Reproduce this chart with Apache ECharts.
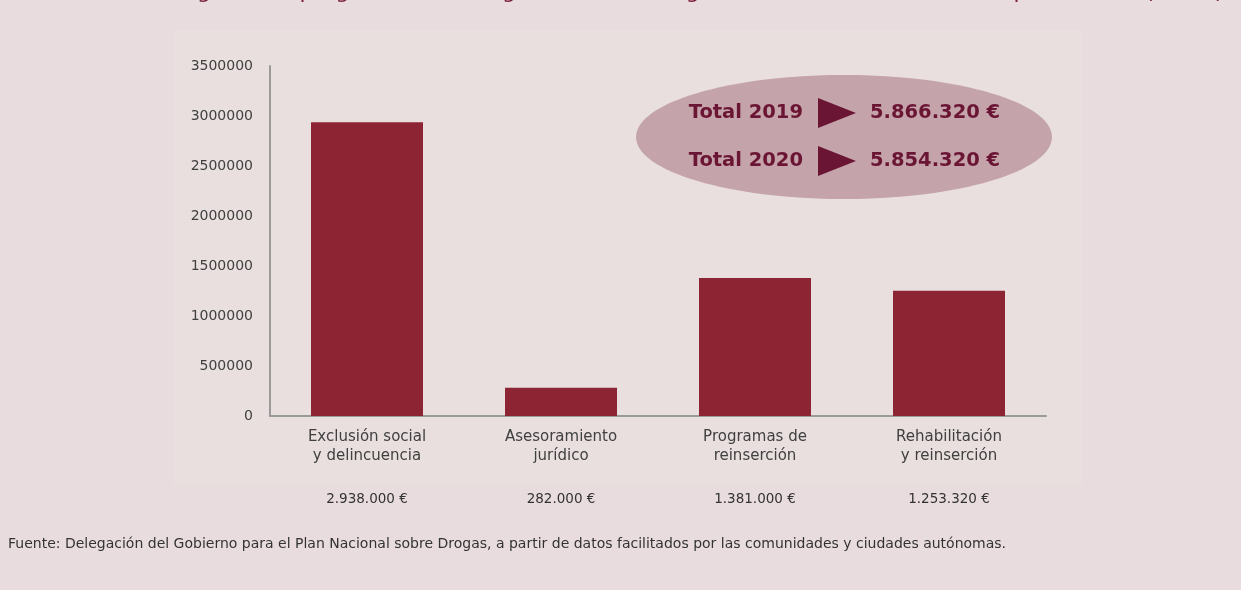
<!DOCTYPE html>
<html lang="es">
<head>
<meta charset="UTF-8">
<title>Programas de integración social</title>
<script src="https://cdn.jsdelivr.net/npm/echarts@6/dist/echarts.min.js"></script>
<style>
    html, body { margin: 0; padding: 0; background: #e9dcdf; }
    #container { width: 1241px; height: 590px; }
</style>
</head>
<body>
<div id="container"></div>
<script type="text/javascript">
    // categorías (dos líneas cada una)
    var categories = [
        'Exclusión social\ny delincuencia',
        'Asesoramiento\njurídico',
        'Programas de\nreinserción',
        'Rehabilitación\ny reinserción'
    ];
    // gasto por área (euros)
    var gasto = [2938000, 282000, 1381000, 1253320];
    // totales del recuadro
    var totalYears = ['2019', '2020'];
    var totals = [5866320, 5854320];

    var font = 'DejaVu Sans';
    var wine = '#6b1535';

    // 2938000 -> "2.938.000 €"
    function euros(v) {
        return String(v).replace(/\B(?=(\d{3})+(?!\d))/g, '.') + ' €';
    }

    var myChart = echarts.init(document.getElementById('container'), null, { renderer: 'canvas' });

    var graphics = [
        // panel claro del gráfico
        { type: 'rect', z: -10, silent: true,
          shape: { x: 173, y: 30, width: 909, height: 455 },
          style: { fill: '#e9dfdf' } },
        // título (cortado arriba)
        { type: 'text', left: 'center', top: -19, silent: true,
          style: { text: 'Distribución del gasto en programas de integración social según áreas de intervención. España, 2020 (euros)',
                   font: '22px ' + font, fill: '#7a1a3c' } },
        // elipse de totales
        { type: 'ellipse', z: 50, silent: true,
          shape: { cx: 844, cy: 137, rx: 208, ry: 62 },
          style: { fill: '#c5a3aa' } },
        // fuente
        { type: 'text', left: 8, top: 537, silent: true,
          style: { text: 'Fuente: Delegación del Gobierno para el Plan Nacional sobre Drogas, a partir de datos facilitados por las comunidades y ciudades autónomas.',
                   font: '14px ' + font, fill: '#333333' } }
    ];
    var rowY = [113, 161];
    totals.forEach(function (t, i) {
        var y = rowY[i];
        graphics.push(
            { type: 'text', z: 60, silent: true, x: 803, y: y,
              style: { text: 'Total ' + totalYears[i], font: 'bold 19.5px ' + font, fill: wine,
                       align: 'right', verticalAlign: 'middle' } },
            { type: 'polygon', z: 60, silent: true,
              shape: { points: [[818, y - 15], [856, y], [818, y + 15]] },
              style: { fill: wine } },
            { type: 'text', z: 60, silent: true, x: 870, y: y,
              style: { text: euros(t), font: 'bold 19.5px ' + font, fill: wine,
                       align: 'left', verticalAlign: 'middle' } }
        );
    });

    var option = {
        backgroundColor: '#e9dcdf',
        textStyle: { fontFamily: font },
        animation: false,
        grid: { left: 270, right: 195, top: 66, bottom: 174 },
        xAxis: {
            type: 'category',
            data: categories,
            axisLine: { lineStyle: { color: '#9a9a9a', width: 2 } },
            axisTick: { show: false },
            axisLabel: {
                margin: 12,
                interval: 0,
                formatter: function (name, idx) {
                    var lines = name.split('\n').map(function (l) { return '{c|' + l + '}'; });
                    return lines.join('\n') + '\n{gap| }\n{v|' + euros(gasto[idx]) + '}';
                },
                rich: {
                    c: { fontSize: 15, lineHeight: 19, color: '#404040', fontFamily: font },
                    gap: { fontSize: 10, lineHeight: 24 },
                    v: { fontSize: 13.5, lineHeight: 19, color: '#333333', fontFamily: font }
                }
            }
        },
        yAxis: {
            type: 'value',
            min: 0,
            max: 3500000,
            interval: 500000,
            axisLine: { show: true, lineStyle: { color: '#9a9a9a', width: 2 } },
            axisTick: { show: false },
            splitLine: { show: false },
            axisLabel: {
                margin: 17, fontSize: 14, color: '#404040', fontFamily: font,
                formatter: function (v) { return String(v); }
            }
        },
        series: [{
            type: 'bar',
            data: gasto,
            barWidth: 112,
            itemStyle: { color: '#8c2433' }
        }],
        graphic: graphics
    };
    myChart.setOption(option);
    window.addEventListener('resize', myChart.resize);
</script>
</body>
</html>
